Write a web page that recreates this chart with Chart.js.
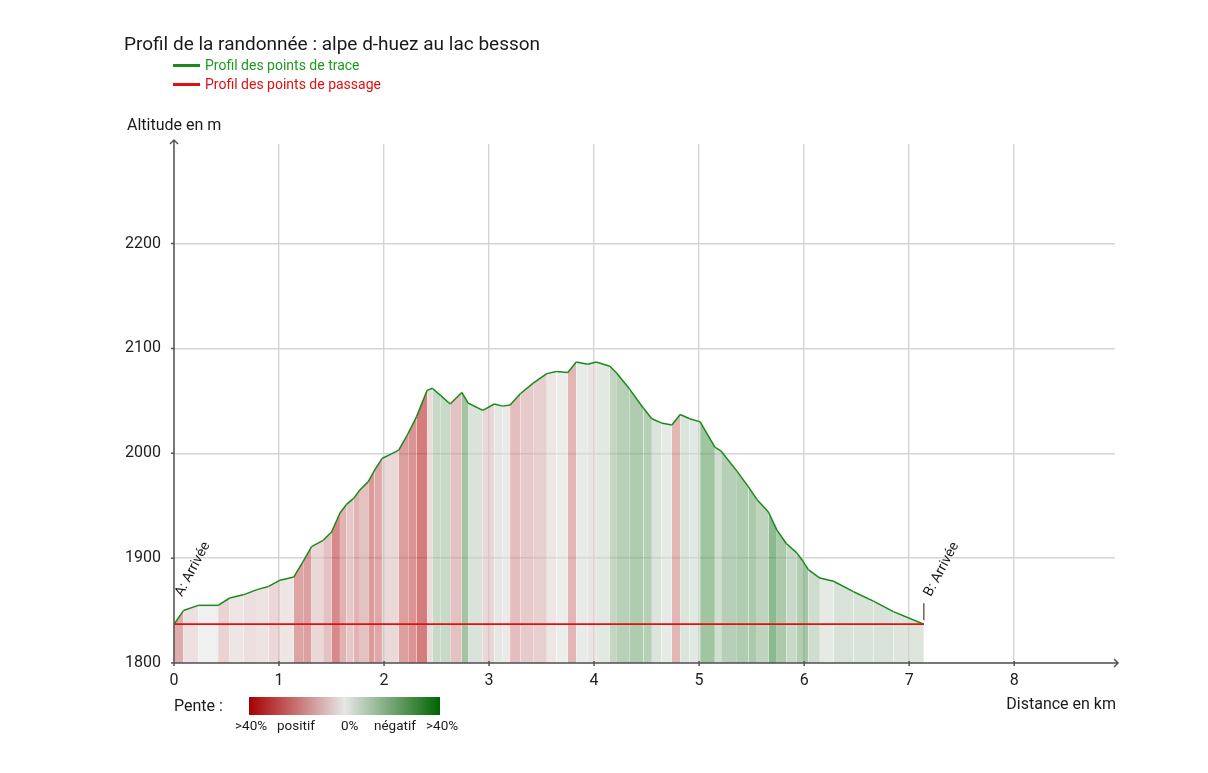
<!DOCTYPE html>
<html lang="fr">
<head>
<meta charset="utf-8">
<title>Profil de la randonnée</title>
<script src="https://cdn.jsdelivr.net/npm/chart.js@4.4.1/dist/chart.umd.min.js"></script>
<style>
body { margin: 0; background: #fff; font-family: Roboto, sans-serif; color: #1a1a1a; }
#wrap { position: relative; width: 1208px; height: 773px; }
#wrap canvas { position: absolute; left: 0; top: 0; }
.txt { position: absolute; white-space: nowrap; line-height: 1; }
.leg-line { position: absolute; width: 27px; height: 2.5px; }
#pente-bar { position: absolute; left: 249px; top: 697px; width: 191px; height: 18px;
  background: linear-gradient(to right, #a80000, #e6e6e6 50%, #006400); }
</style>
</head>
<body>
<div id="wrap">
  <canvas id="profil"></canvas>
  <div class="txt" style="left:124px; top:34px; font-size:19px;">Profil de la randonnée : alpe d-huez au lac besson</div>
  <div class="leg-line" style="left:173px; top:64px; background:#1a8a1a;"></div>
  <div class="txt" style="left:205px; top:58px; font-size:14px; color:#1f9a1f;">Profil des points de trace</div>
  <div class="leg-line" style="left:173px; top:83px; background:#e01010;"></div>
  <div class="txt" style="left:205px; top:77px; font-size:14px; color:#e01010;">Profil des points de passage</div>
  <div class="txt" style="left:127px; top:117px; font-size:16px;">Altitude en m</div>
  <div class="txt" style="right:92px; top:696px; font-size:16px;">Distance en km</div>
  <div class="txt" style="left:174px; top:698px; font-size:16px;">Pente :</div>
  <div id="pente-bar"></div>
  <div class="txt" style="left:235px; top:719px; font-size:13.5px;">&gt;40%</div>
  <div class="txt" style="left:277px; top:719px; font-size:13.5px;">positif</div>
  <div class="txt" style="left:341px; top:719px; font-size:13.5px;">0%</div>
  <div class="txt" style="left:374px; top:719px; font-size:13.5px;">négatif</div>
  <div class="txt" style="left:426px; top:719px; font-size:13.5px;">&gt;40%</div>
</div>
<script>
// profil des points de trace (km / m)
const distances = [0, 0.09, 0.23, 0.42, 0.53, 0.66, 0.79, 0.90, 1.01, 1.14, 1.23, 1.31, 1.42, 1.50, 1.58, 1.64, 1.71, 1.77, 1.85, 1.91,
  1.98, 2.06, 2.14, 2.23, 2.31, 2.41, 2.46, 2.54, 2.63, 2.74, 2.80, 2.94, 3.05, 3.13, 3.20, 3.30, 3.42, 3.55, 3.64, 3.75,
  3.83, 3.94, 4.02, 4.15, 4.21, 4.34, 4.47, 4.55, 4.64, 4.74, 4.82, 4.91, 5.01, 5.15, 5.21, 5.36, 5.47, 5.55, 5.66, 5.74,
  5.83, 5.93, 5.99, 6.04, 6.15, 6.28, 6.47, 6.66, 6.85, 7.14];
const altitudes = [1837, 1850, 1855, 1855, 1862, 1865, 1870, 1873, 1879, 1882, 1897, 1911, 1917, 1925, 1943, 1951, 1957, 1965, 1973, 1984,
  1995, 1999, 2003, 2019, 2035, 2060, 2062, 2055, 2047, 2058, 2048, 2041, 2047, 2045, 2046, 2057, 2067, 2076, 2078, 2077,
  2087, 2085, 2087, 2083, 2077, 2061, 2043, 2033, 2029, 2027, 2037, 2033, 2030, 2006, 2002, 1983, 1968, 1956, 1944, 1927,
  1914, 1905, 1897, 1889, 1881, 1878, 1868, 1859, 1849, 1837];

// profil des points de passage
const passageDistances = [0, 7.14];
const passageAltitudes = [1837, 1837];
const passageLabels = ['A: Arrivée', 'B: Arrivée'];

const yTicks = [1800, 1900, 2000, 2100, 2200];
const xTicks = [0, 1, 2, 3, 4, 5, 6, 7, 8];

// couleur de la pente pour chaque segment
function couleurPente(ctx) {
    const dx = (ctx.p1.parsed.x - ctx.p0.parsed.x) * 1000;
    const pente = (ctx.p1.parsed.y - ctx.p0.parsed.y) / dx * 100;
    const t = Math.min(Math.abs(pente) / 30, 1);
    const base = [230, 230, 230];
    const fin = pente >= 0 ? [176, 0, 0] : [0, 100, 0];
    const c = base.map((b, i) => Math.round(b + (fin[i] - b) * t));
    return `rgba(${c[0]},${c[1]},${c[2]},0.6)`;
}

// axes avec flèches + étiquettes A / B
const axesPlugin = {
    id: 'axes',
    afterDatasetsDraw(chart) {
        const {ctx, chartArea: a, scales: {x, y}} = chart;
        ctx.save();
        ctx.strokeStyle = '#555';
        ctx.fillStyle = '#555';
        ctx.lineWidth = 1.5;
        ctx.beginPath();
        ctx.moveTo(a.left, a.bottom);
        ctx.lineTo(a.right + 3, a.bottom);
        ctx.moveTo(a.left, a.bottom);
        ctx.lineTo(a.left, a.top - 4);
        // flèches
        ctx.moveTo(a.right - 1, a.bottom - 4);
        ctx.lineTo(a.right + 3, a.bottom);
        ctx.lineTo(a.right - 1, a.bottom + 4);
        ctx.moveTo(a.left - 4, a.top);
        ctx.lineTo(a.left, a.top - 4);
        ctx.lineTo(a.left + 4, a.top);
        // graduations
        xTicks.forEach(v => {
            const px = x.getPixelForValue(v);
            ctx.moveTo(px, a.bottom - 2);
            ctx.lineTo(px, a.bottom + 3);
        });
        yTicks.forEach(v => {
            const py = y.getPixelForValue(v);
            ctx.moveTo(a.left - 3, py);
            ctx.lineTo(a.left, py);
        });
        ctx.stroke();

        ctx.fillStyle = '#1a1a1a';
        ctx.strokeStyle = '#1a1a1a';
        ctx.lineWidth = 1;
        ctx.font = '14px Roboto';
        passageLabels.forEach((lbl, i) => {
            const px = x.getPixelForValue(passageDistances[i]);
            const py = y.getPixelForValue(passageAltitudes[i]);
            if (i > 0) {
                ctx.beginPath();
                ctx.moveTo(px, py - 4);
                ctx.lineTo(px, py - 21);
                ctx.stroke();
            }
            ctx.save();
            ctx.translate(px + (i > 0 ? 7 : 8), py - 27);
            ctx.rotate(-62 * Math.PI / 180);
            ctx.fillText(lbl, 0, 0);
            ctx.restore();
        });
        ctx.restore();
    }
};

const ctx = document.getElementById('profil').getContext('2d');
new Chart(ctx, {
    type: 'line',
    data: {
        datasets: [{
            label: 'Profil des points de trace',
            data: distances.map((d, i) => ({x: d, y: altitudes[i]})),
            borderColor: '#1a8a1a',
            borderWidth: 1.5,
            pointRadius: 0,
            tension: 0,
            fill: 'start',
            backgroundColor: 'rgba(230,230,230,0.6)',
            segment: {backgroundColor: couleurPente},
            order: 2
        }, {
            label: 'Profil des points de passage',
            data: passageDistances.map((d, i) => ({x: d, y: passageAltitudes[i]})),
            borderColor: '#e01010',
            borderWidth: 1.7,
            pointRadius: 0,
            fill: false,
            order: 1
        }]
    },
    options: {
        responsive: true,
        maintainAspectRatio: false,
        animation: false,
        layout: {padding: {left: 114, right: 93, top: 144, bottom: 80}},
        plugins: {legend: {display: false}, tooltip: {enabled: false}},
        scales: {
            x: {
                type: 'linear',
                min: 0,
                max: 8.96,
                afterBuildTicks: s => { s.ticks = xTicks.map(v => ({value: v})); },
                afterFit: s => { s.height = 30; },
                grid: {color: '#d4d4d4', lineWidth: 1.4, drawTicks: false},
                border: {display: false},
                ticks: {color: '#222', font: {family: 'Roboto', size: 16}, padding: 8, maxRotation: 0,
                    callback: v => String(v)}
            },
            y: {
                min: 1800,
                max: 2295,
                afterBuildTicks: s => { s.ticks = yTicks.map(v => ({value: v})); },
                afterFit: s => { s.width = 60; },
                grid: {color: '#d4d4d4', lineWidth: 1.4, drawTicks: false},
                border: {display: false},
                ticks: {color: '#222', font: {family: 'Roboto', size: 16}, padding: 13,
                    callback: v => String(v)}
            }
        }
    },
    plugins: [axesPlugin]
});
</script>
</body>
</html>
